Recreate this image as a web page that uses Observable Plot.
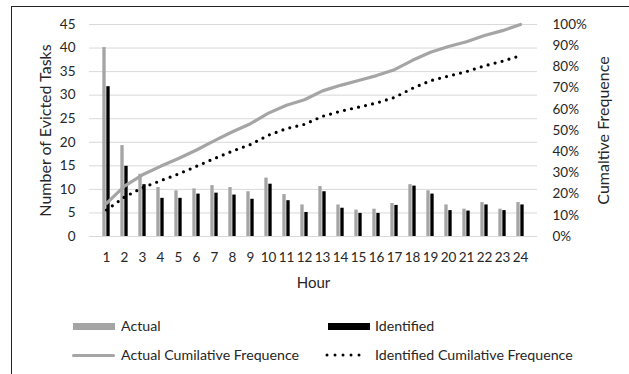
<!DOCTYPE html>
<html><head><meta charset="utf-8">
<script src="https://cdn.jsdelivr.net/npm/d3@7"></script>
<script src="https://cdn.jsdelivr.net/npm/@observablehq/plot@0.6"></script>
<style>
html,body{margin:0;padding:0;background:#fff;width:629px;height:374px;overflow:hidden;}
body{position:relative;font-family:Lato,"Open Sans",sans-serif;color:#262626;}
#frame{position:absolute;left:11px;top:6px;width:700px;height:420px;border-top:1px solid #222;border-left:1px solid #222;box-sizing:border-box;pointer-events:none;}
#chart{position:absolute;left:0;top:0;}
.lg{position:absolute;font-size:14.2px;line-height:16px;white-space:nowrap;}
.sw{position:absolute;}
</style>
</head><body>
<div id="chart"></div>
<div id="legend"></div>
<div id="frame"></div>
<script>
const hours = [1,2,3,4,5,6,7,8,9,10,11,12,13,14,15,16,17,18,19,20,21,22,23,24];
const actual = [40.1,19.3,13.2,10.4,9.7,10.1,10.8,10.4,9.5,12.4,8.9,6.7,10.6,6.7,5.6,5.8,7.0,11.0,9.7,6.7,5.8,7.2,5.8,7.2];
const identified = [31.8,14.9,11.0,8.1,8.1,9.0,9.2,8.8,7.9,11.1,7.6,5.1,9.5,6.0,4.9,4.9,6.6,10.7,9.0,5.5,5.4,6.7,5.5,6.7];
const actualCum = [15.6,23.8,29.1,33.1,36.8,40.8,45.2,49.4,53.2,58.2,61.9,64.5,68.7,71.3,73.6,75.9,78.7,83.1,86.9,89.6,91.9,94.8,97.1,100];
const identifiedCum = [12.5,18.6,23.0,26.3,29.5,33.1,36.8,40.3,43.4,47.8,50.9,52.9,56.7,59.1,61.0,63.0,65.6,69.9,73.5,75.7,77.8,80.5,82.7,85.3];
const leftTicks = [0,5,10,15,20,25,30,35,40,45];
const rightTicks = [0,10,20,30,40,50,60,70,80,90,100];
const seriesNames = ["Actual","Identified","Actual Cumilative Frequence","Identified Cumilative Frequence"];

const rows = hours.map((h,i)=>({hour:String(h), actual:actual[i], identified:identified[i], aCum:actualCum[i], iCum:identifiedCum[i]}));
const pct2left = p => p/100*45;

const W = 629, H = 300;
const mL = 89, mR = 92, mT = 24, mB = 64;
const bw = (W - mL - mR) / hours.length;
const barW = 4;
const GRAY = "#a5a5a5";

const chart = Plot.plot({
  width: W, height: H,
  marginLeft: mL, marginRight: mR, marginTop: mT, marginBottom: mB,
  style: {fontFamily: "Lato, 'Open Sans', sans-serif", fontSize: "13.5px", color: "#262626", background: "transparent"},
  x: {type: "band", domain: hours.map(String), padding: 0, label: null},
  y: {domain: [0,45], label: null},
  marks: [
    Plot.ruleY(leftTicks, {stroke: "#d9d9d9", strokeWidth: 1}),
    Plot.axisY({ticks: leftTicks, tickSize: 0, tickPadding: 14, label: null, fontSize: 13.5}),
    Plot.axisY({anchor: "right", ticks: rightTicks.map(pct2left), tickFormat: v => Math.round(v/45*100) + "%", tickSize: 0, tickPadding: 15, label: null, fontSize: 13.5}),
    Plot.axisX({tickSize: 0, tickPadding: 16, label: null, fontSize: 13.5}),
    Plot.barY(rows, {x: "hour", y: "actual", fill: GRAY, insetLeft: bw/2 - barW, insetRight: bw/2}),
    Plot.barY(rows, {x: "hour", y: "identified", fill: "#000", insetLeft: bw/2, insetRight: bw/2 - barW}),
    Plot.lineY(rows, {x: "hour", y: d => pct2left(d.aCum), stroke: GRAY, strokeWidth: 3.2, strokeLinejoin: "round"}),
    Plot.lineY(rows, {x: "hour", y: d => pct2left(d.iCum), stroke: "#000", strokeWidth: 3.2, strokeDasharray: "0 7.2", strokeLinecap: "round"}),
    Plot.text(["Number of Evicted Tasks"], {frameAnchor: "left", dx: -44, rotate: -90, textAnchor: "middle", fontSize: 16, fill: "#262626"}),
    Plot.text(["Cumaltive Frequence"], {frameAnchor: "right", dx: 66, rotate: -90, textAnchor: "middle", fontSize: 16, fill: "#262626"}),
    Plot.text(["Hour"], {frameAnchor: "bottom", dy: 51, fontSize: 15, fill: "#262626"})
  ]
});
document.getElementById("chart").appendChild(chart);

// legend
const lg = document.getElementById("legend");
function addItem(x, y, swatchHTML, text) {
  const d = document.createElement("div");
  d.innerHTML = swatchHTML;
  lg.appendChild(d.firstElementChild);
  const t = document.createElement("div");
  t.className = "lg"; t.textContent = text;
  t.style.left = (x) + "px"; t.style.top = (y - 8) + "px";
  lg.appendChild(t);
}
addItem(121, 326, `<div class="sw" style="left:73px;top:323px;width:42px;height:7px;background:${GRAY}"></div>`, seriesNames[0]);
addItem(375, 326, `<div class="sw" style="left:328px;top:323px;width:42px;height:7px;background:#000"></div>`, seriesNames[1]);
addItem(121, 355, `<div class="sw" style="left:72px;top:353.5px;width:43px;height:3px;background:${GRAY};border-radius:1.5px"></div>`, seriesNames[2]);
addItem(375, 355, `<svg class="sw" style="left:322px;top:350px" width="50" height="10"><line x1="5" x2="45" y1="5" y2="5" stroke="#000" stroke-width="3" stroke-linecap="round" stroke-dasharray="0 8"/></svg>`, seriesNames[3]);
</script>
</body></html>
